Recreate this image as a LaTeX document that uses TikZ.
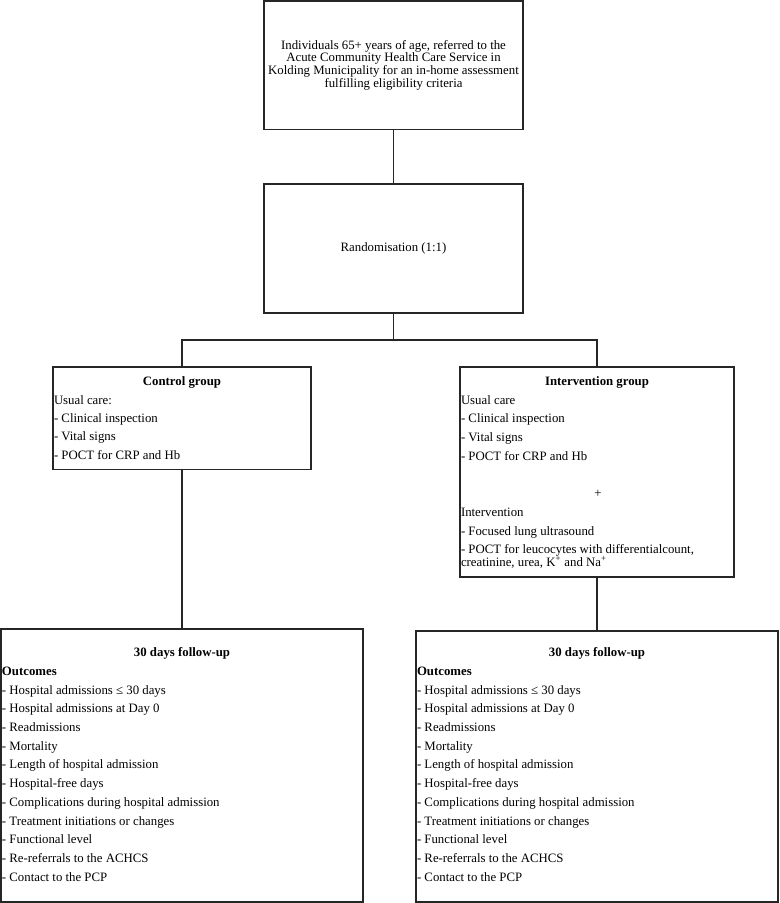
\documentclass[tikz,border=0pt]{standalone}
\usepackage{fontspec}
\setmainfont{Liberation Serif}
\begin{document}
\begin{tikzpicture}[x=0.75pt,y=-0.75pt,
  box/.style={draw=black!85,line width=1.25pt,inner sep=0pt,outer sep=0pt},
  conn/.style={draw=black!85,line width=1.25pt},
  txt/.style={inner sep=0pt,outer sep=0pt,anchor=base west,font=\fontsize{9.6pt}{11pt}\selectfont},
  ttl/.style={inner sep=0pt,outer sep=0pt,anchor=base,font=\fontsize{9.6pt}{11pt}\selectfont\bfseries}]
\useasboundingbox (0,0) rectangle (779,903);
% boxes
\node[box,minimum width=194.25pt,minimum height=96.4pt,align=center,
  font=\fontsize{9.6pt}{9.6pt}\selectfont] (top) at (393.5,65.25)
  {Individuals 65+ years of age, referred to the\\Acute Community Health Care Service in\\Kolding Municipality for an in-home assessment\\fulfilling eligibility criteria};
\node[box,minimum width=194.25pt,minimum height=96.75pt,
  font=\fontsize{9.6pt}{11pt}\selectfont] (rand) at (393.5,248.5) {Randomisation (1:1)};
\node[box,minimum width=193.5pt,minimum height=76.9pt] (ctrl) at (182,418.25) {};
\node[box,minimum width=205.5pt,minimum height=157.5pt] (intv) at (597,472) {};
\node[box,minimum width=271.5pt,minimum height=204.5pt] (fuL) at (182,765.5) {};
\node[box,minimum width=271.5pt,minimum height=203.25pt] (fuR) at (597,766.5) {};
% connectors
\coordinate (split) at (393.5,340);
\draw[conn] (top.south) -- (rand.north);
\draw[conn] (rand.south) -- (split);
\draw[conn] (ctrl.north) |- (split) -| (intv.north);
\draw[conn] (ctrl.south) -- (fuL.north);
\draw[conn] (intv.south) -- (fuR.north);
% control group text
\node[ttl] (ct) at (182,385) {Control group};
\node[txt] (c1) at (54,404) {Usual care:};
\node[txt] (c2) at (54,422.3) {- Clinical inspection};
\node[txt] (c3) at (54,440.7) {- Vital signs};
\node[txt] (c4) at (54,459) {- POCT for CRP and Hb};
% intervention group text
\node[ttl] (it) at (597,385) {Intervention group};
\node[txt] (i1) at (461,404) {Usual care};
\node[txt] (i2) at (461,422.3) {- Clinical inspection};
\node[txt] (i3) at (461,441) {- Vital signs};
\node[txt] (i4) at (461,460) {- POCT for CRP and Hb};
\node[txt,anchor=base] (i5) at (598,497) {+};
\node[txt] (i6) at (461,516.5) {Intervention};
\node[txt] (i7) at (461,535) {- Focused lung ultrasound};
\node[txt] (i8) at (461,553) {- POCT for leucocytes with differentialcount,};
\node[txt] (i9) at (461,566) {creatinine, urea, K\textsuperscript{+} and Na\textsuperscript{+}};
% follow-up texts
\foreach \bx/\xl/\xc in {L/2/182,R/417/597}{
  \node[ttl] (t\bx) at (\xc,656.7) {30 days follow-up};
  \node[txt,font=\fontsize{9.6pt}{11pt}\selectfont\bfseries] (o\bx) at (\xl,675.7) {Outcomes};
  \foreach \s [count=\k from 0] in {
    {- Hospital admissions ≤ 30 days},
    {- Hospital admissions at Day 0},
    {- Readmissions},
    {- Mortality},
    {- Length of hospital admission},
    {- Hospital-free days},
    {- Complications during hospital admission},
    {- Treatment initiations or changes},
    {- Functional level},
    {- Re-referrals to the ACHCS},
    {- Contact to the PCP}}{
    \node[txt] (l\bx\k) at (\xl,694.3+18.67*\k) {\s};
  }
}
\end{tikzpicture}
\end{document}
